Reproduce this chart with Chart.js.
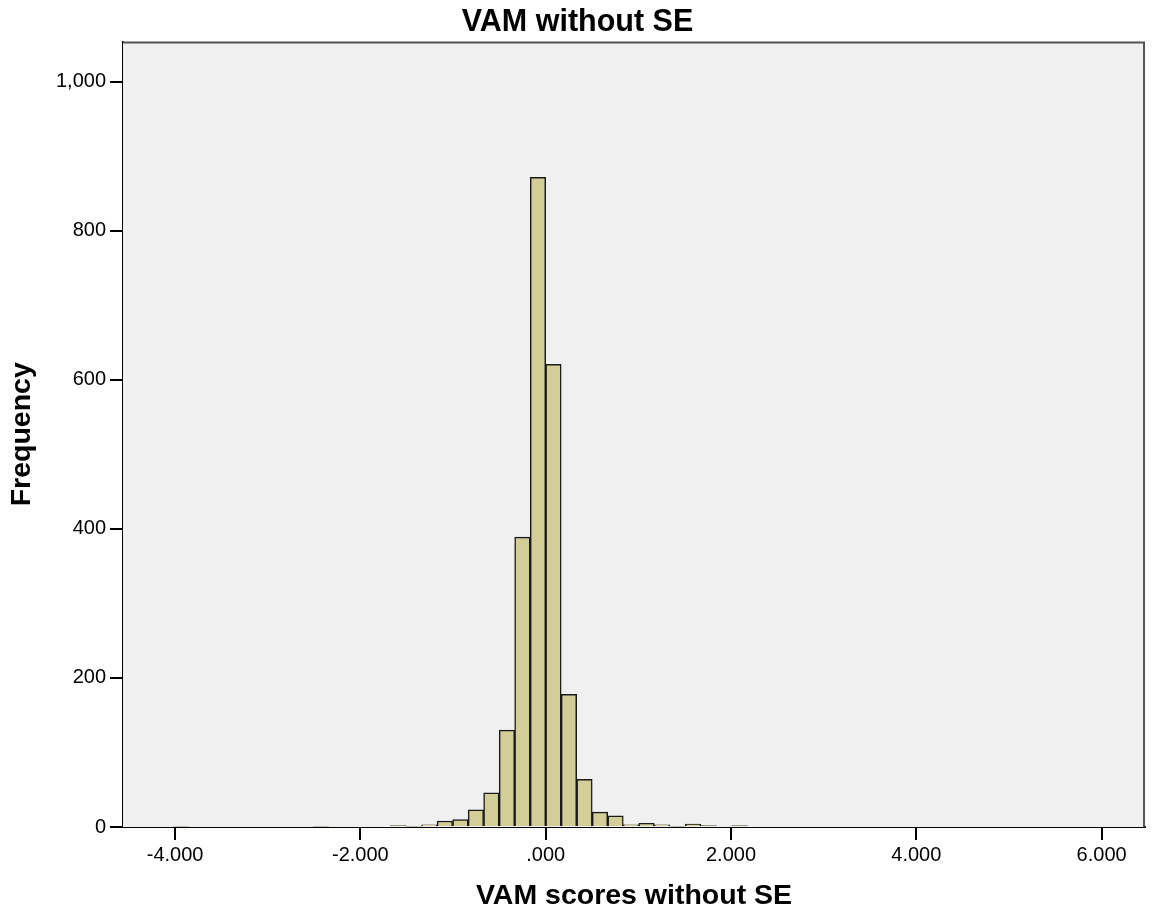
<!DOCTYPE html>
<html>
<head>
<meta charset="utf-8">
<script src="https://cdn.jsdelivr.net/npm/chart.js@4"></script>
<style>
  html, body { margin: 0; padding: 0; background: #fff; }
</style>
</head>
<body>
<canvas id="myChart" width="1155" height="913"></canvas>
<script>
// lower edge of each histogram bin and its count
var binStart = [-4.018, -2.511, -1.674, -1.507, -1.339, -1.172, -1.004, -0.837, -0.670, -0.502,
  -0.335, -0.167, 0.000, 0.167, 0.335, 0.502, 0.670, 0.837, 1.004, 1.172, 1.339, 1.507, 1.674, 1.841, 2.009];
var counts = [1, 1, 2, 1, 3, 8, 10, 23, 46, 130,
  389, 872, 621, 178, 64, 20, 15, 3, 5, 3, 1, 4, 2, 0, 2];
var binWidth = 0.1674;
var xTicks = [-4, -2, 0, 2, 4, 6];
var yTicks = [0, 200, 400, 600, 800, 1000];

var points = binStart.map((s, i) => ({ x: s + binWidth / 2, y: counts[i] }));

var fontFam = "'Liberation Sans', Arial, sans-serif";

var plotBox = {
  id: 'plotBox',
  beforeDatasetsDraw(chart) {
    let a = chart.chartArea;
    let ctx = chart.ctx;
    ctx.save();
    ctx.fillStyle = '#f0f0f0';
    ctx.fillRect(a.left, a.top, a.right - a.left, a.bottom - a.top);
    ctx.restore();
  },
  afterDraw(chart) {
    let a = chart.chartArea;
    let ctx = chart.ctx;
    ctx.save();
    ctx.strokeStyle = '#555';
    ctx.lineWidth = 2;
    ctx.beginPath();
    ctx.moveTo(a.left, a.top + 1);
    ctx.lineTo(a.right - 1, a.top + 1);
    ctx.lineTo(a.right - 1, a.bottom);
    ctx.stroke();
    ctx.restore();
  }
};

var histImage = document.getElementById('myChart');
var histChart = new Chart(histImage, {
  type: 'bar',
  data: {
    datasets: [{
      data: points,
      backgroundColor: '#d3ce98',
      borderColor: '#1a1a1a',
      borderWidth: 1.5,
      barPercentage: 1,
      categoryPercentage: 1
    }]
  },
  options: {
    responsive: false,
    devicePixelRatio: 1,
    animation: false,
    layout: { padding: 0 },
    plugins: {
      legend: { display: false },
      tooltip: { enabled: false },
      title: {
        display: true,
        text: 'VAM without SE',
        color: '#000',
        font: { family: fontFam, size: 30.5, weight: 'bold' },
        padding: { top: 4, bottom: 1 }
      }
    },
    scales: {
      x: {
        type: 'linear',
        min: -4.562,
        max: 6.468,
        offset: false,
        afterFit: (s) => { s.height = 86; s.paddingRight = 10; },
        afterBuildTicks: (s) => { s.ticks = xTicks.map(v => ({ value: v })); },
        grid: { offset: false, drawOnChartArea: false, drawTicks: true, tickLength: 13, color: '#000', lineWidth: 2 },
        border: { display: true, color: '#000', width: 2 },
        ticks: {
          color: '#000',
          padding: 3,
          maxRotation: 0,
          font: { family: fontFam, size: 20 },
          callback: (v) => v === 0 ? '.000' : v.toFixed(3)
        },
        title: {
          display: true,
          text: 'VAM scores without SE',
          color: '#000',
          font: { family: fontFam, size: 28.5, weight: 'bold' },
          padding: { top: 0, bottom: 0 }
        }
      },
      y: {
        min: 0,
        max: 1054,
        afterFit: (s) => { s.width = 123; },
        afterBuildTicks: (s) => { s.ticks = yTicks.map(v => ({ value: v })); },
        grid: { drawOnChartArea: false, drawTicks: true, tickLength: 13, color: '#000', lineWidth: 2 },
        border: { display: true, color: '#000', width: 2 },
        ticks: {
          color: '#000',
          padding: 4,
          font: { family: fontFam, size: 20 },
          callback: (v) => v.toLocaleString('en-US')
        },
        title: {
          display: true,
          text: 'Frequency',
          color: '#000',
          font: { family: fontFam, size: 28.5, weight: 'bold' },
          padding: { top: 5, bottom: 0 }
        }
      }
    }
  },
  plugins: [plotBox]
});
</script>
</body>
</html>
